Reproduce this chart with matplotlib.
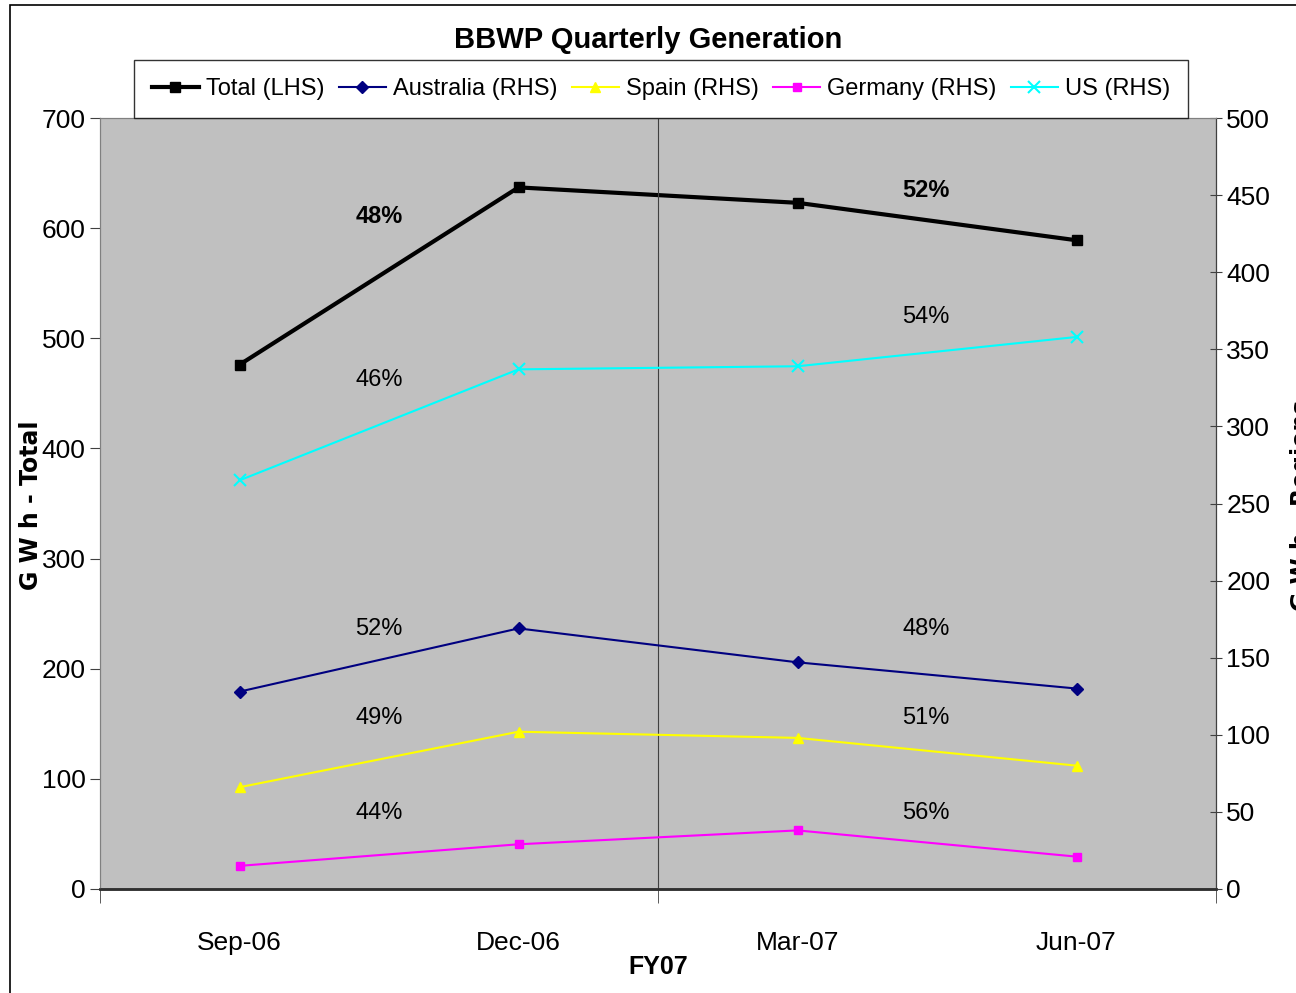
import matplotlib
matplotlib.use("Agg")
import matplotlib.pyplot as plt
from matplotlib.patches import Rectangle
from matplotlib import font_manager

# data
quarters = ['Sep-06', 'Dec-06', 'Mar-07', 'Jun-07']
total = [476, 637, 623, 589]
australia = [128, 169, 147, 130]
spain = [66, 102, 98, 80]
germany = [15, 29, 38, 21]
us = [265, 337, 339, 358]

# share labels: (x position between quarters, y on left axis, text, bold)
share_labels = [
    (0.5, 611, '48%', True), (2.46, 634, '52%', True),
    (0.5, 462, '46%', False), (2.46, 519, '54%', False),
    (0.5, 236, '52%', False), (2.46, 236, '48%', False),
    (0.5, 155, '49%', False), (2.46, 155, '51%', False),
    (0.5, 69, '44%', False), (2.46, 69, '56%', False),
]

names = {f.name for f in font_manager.fontManager.ttflist}
narrow = 'Liberation Sans Narrow' if 'Liberation Sans Narrow' in names else 'Liberation Sans'
plt.rcParams['font.family'] = [narrow, 'DejaVu Sans']

fig = plt.figure(figsize=(12.96, 9.93), dpi=100)
ax = fig.add_axes([100 / 1296, 1 - 889 / 993, 1116 / 1296, 771 / 993])
ax2 = ax.twinx()
ax.set_facecolor('#C0C0C0')

x = list(range(len(quarters)))
l1, = ax.plot(x, total, color='black', lw=3, marker='s', ms=7, label='Total (LHS)')
l2, = ax2.plot(x, australia, color='#000080', lw=1.5, marker='D', ms=6, label='Australia (RHS)')
l3, = ax2.plot(x, spain, color='#FFFF00', lw=1.5, marker='^', ms=7, label='Spain (RHS)')
l4, = ax2.plot(x, germany, color='#FF00FF', lw=1.5, marker='s', ms=6, label='Germany (RHS)')
l5, = ax2.plot(x, us, color='#00FFFF', lw=1.5, marker='x', ms=8, mew=1.5, label='US (RHS)')

ax.axvline(1.5, color='#404040', lw=0.8)

ax.set_xlim(-0.5, 3.5)
ax.set_ylim(0, 700)
ax2.set_ylim(0, 500)
ax.set_yticks(range(0, 701, 100))
ax2.set_yticks(range(0, 501, 50))
ax.set_xticks(x)
ax.set_xticklabels(quarters)
ax.set_xticks([-0.5, 1.5, 3.5], minor=True)
ax.tick_params(axis='x', which='major', length=0, labelsize=19, pad=30)
ax.tick_params(axis='x', which='minor', length=10, color='#404040')
ax.tick_params(axis='y', labelsize=19, length=7, color='#404040')
ax2.tick_params(axis='y', labelsize=19, length=8, direction='inout', color='#404040')

ax.spines['top'].set_color('#808080')
ax2.spines['top'].set_color('#808080')
ax.spines['left'].set_color('#808080')
ax2.spines['left'].set_color('#808080')
ax2.spines['right'].set_color('#404040')
ax.spines['bottom'].set_linewidth(1.8)
ax2.spines['bottom'].set_linewidth(1.8)
ax.spines['bottom'].set_color('#303030')
ax2.spines['bottom'].set_color('#303030')

for xp, yp, txt, bold in share_labels:
    ax.text(xp, yp, txt, ha='center', va='center', fontsize=17,
            fontweight='bold' if bold else 'normal')

ax.set_xlabel('FY07', fontsize=18, fontweight='bold', labelpad=0)
fig.text(31 / 1296, 1 - 505 / 993, 'G W h - Total', rotation=90, ha='center', va='center',
         fontsize=17, fontweight='bold', family='DejaVu Sans')
fig.text(1302 / 1296, 1 - 505 / 993, 'G W h - Regions', rotation=90, ha='center', va='center',
         fontsize=17, fontweight='bold', family='DejaVu Sans')

fig.suptitle('BBWP Quarterly Generation', y=1 - 40 / 993, va='center',
             fontsize=21, fontweight='bold')

leg = fig.legend(handles=[l1, l2, l3, l4, l5], loc='center', ncol=5,
                 bbox_to_anchor=(661 / 1296, 1 - 89 / 993), fontsize=17,
                 frameon=True, fancybox=False, edgecolor='black', handlelength=2.0,
                 handletextpad=0.3, columnspacing=0.6, borderpad=0.75)
leg.get_frame().set_linewidth(1.0)

# outer chart border
fig.patches.append(Rectangle((10 / 1296, -0.1), 1.2, 1 - 5 / 993 + 0.1, transform=fig.transFigure,
                             fill=False, edgecolor='black', lw=1.2))

fig.savefig('out.png', dpi=100)
